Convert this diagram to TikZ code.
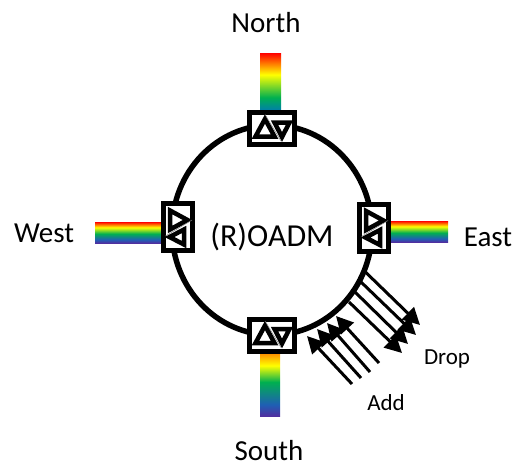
\documentclass[tikz,border=0pt]{standalone}
\usepackage{fontspec}
\setmainfont{Carlito}
\usetikzlibrary{arrows.meta,shapes.geometric}

\definecolor{bandorange}{HTML}{FF8C00}
\definecolor{bandgreen}{HTML}{00B050}
\definecolor{bandteal}{HTML}{0080A8}
\definecolor{bandblue}{HTML}{1F5FB4}
\definecolor{bandindigo}{HTML}{5030A0}

\pgfdeclareverticalshading{bandsN}{100bp}{color(0bp)=(bandteal); color(25bp)=(bandteal); color(36bp)=(bandgreen); color(56bp)=(yellow); color(75bp)=(red); color(100bp)=(red)}
\pgfdeclareverticalshading{bandsS}{100bp}{color(0bp)=(bandindigo); color(25bp)=(bandindigo); color(34bp)=(bandblue); color(52bp)=(bandgreen); color(65bp)=(yellow); color(75bp)=(bandorange); color(100bp)=(bandorange)}
\pgfdeclareverticalshading{bandsH}{100bp}{color(0bp)=(bandindigo); color(25bp)=(bandindigo); color(33bp)=(bandblue); color(47bp)=(bandgreen); color(62bp)=(yellow); color(75bp)=(red); color(100bp)=(red)}

\tikzset{
  label/.style={font=\fontsize{29}{29}\selectfont,inner sep=0pt},
  smalllabel/.style={font=\fontsize{23}{23}\selectfont,inner sep=0pt},
  bar/.style={shade,draw=none,inner sep=0pt,outer sep=0pt},
  ring/.style={shape=ellipse,draw=black,line width=5.5pt,inner sep=0pt,minimum width=200pt,minimum height=210pt},
  wideport/.style={shape=rectangle,draw=black,fill=white,line width=5pt,inner sep=0pt,minimum width=45pt,minimum height=32pt},
  tallport/.style={shape=rectangle,draw=black,fill=white,line width=5pt,inner sep=0pt,minimum width=29pt,minimum height=47pt},
  channel/.style={draw=black,line width=3pt,-{Triangle[length=17pt,width=17pt]}},
  ports/.pic={
    \draw[line width=4.5pt,miter limit=10] (-7,-9.5) -- (-16.5,8) -- (2.5,8) -- cycle;
    \draw[line width=4.5pt,miter limit=10] (2.5,-6) -- (17.5,-6) -- (10,8.5) -- cycle;
    \draw[line width=0.5pt,gray] (-7,-14) -- (9,12.5);
  }
}

\begin{document}
\begin{tikzpicture}[x=1pt,y=-1pt]
\useasboundingbox (0,0) rectangle (513,466);

\node[bar,shading=bandsN,minimum width=21pt,minimum height=57pt] (northbar) at (270.5,81.5) {};
\node[bar,shading=bandsS,minimum width=20pt,minimum height=63pt] (southbar) at (270,384.5) {};
\node[bar,shading=bandsH,minimum width=57pt,minimum height=21pt] (eastbar) at (419.5,231.5) {};
\node[bar,shading=bandsH,minimum width=66pt,minimum height=21pt] (westbar) at (128,232.5) {};

\node[ring] (oadm) at (272,230) {};
\node[label,font=\fontsize{32}{32}\selectfont] (oadmlabel) at (272,237) {(R)OADM};

\node[wideport] (northport) at (272,128.5) {};
\node[wideport] (southport) at (272,335) {};
\node[tallport] (eastport) at (374,227.5) {};
\node[tallport] (westport) at (178,227) {};
\pic at (northport) {ports};
\pic at (southport) {ports};
\pic[rotate=-90] at (eastport) {ports};
\pic[rotate=-90] at (westport) {ports};

\node[label] (north) at (266,23) {North};
\node[label] (south) at (269,451) {South};
\node[label] (east) at (488,237) {East};
\node[label] (west) at (44,233) {West};
\node[smalllabel] (drop) at (447,359) {Drop};
\node[smalllabel] (add) at (386,403) {Add};

\coordinate (drop1a) at (365.7,272.3);
\coordinate (drop1b) at (420,325);
\coordinate (drop2a) at (361,282);
\coordinate (drop2b) at (416,335);
\coordinate (drop3a) at (355,292);
\coordinate (drop3b) at (408,344);
\coordinate (drop4a) at (349,302);
\coordinate (drop4b) at (402,353);
\coordinate (add1a) at (379,363);
\coordinate (add1b) at (336,316);
\coordinate (add2a) at (370,372);
\coordinate (add2b) at (327,323);
\coordinate (add3a) at (361,378);
\coordinate (add3b) at (317,329);
\coordinate (add4a) at (352,384);
\coordinate (add4b) at (307,336);

\draw [channel] (drop1a) -- (drop1b);
\draw [channel] (drop2a) -- (drop2b);
\draw [channel] (drop3a) -- (drop3b);
\draw [channel] (drop4a) -- (drop4b);
\draw [channel] (add1a) -- (add1b);
\draw [channel] (add2a) -- (add2b);
\draw [channel] (add3a) -- (add3b);
\draw [channel] (add4a) -- (add4b);
\end{tikzpicture}
\end{document}
